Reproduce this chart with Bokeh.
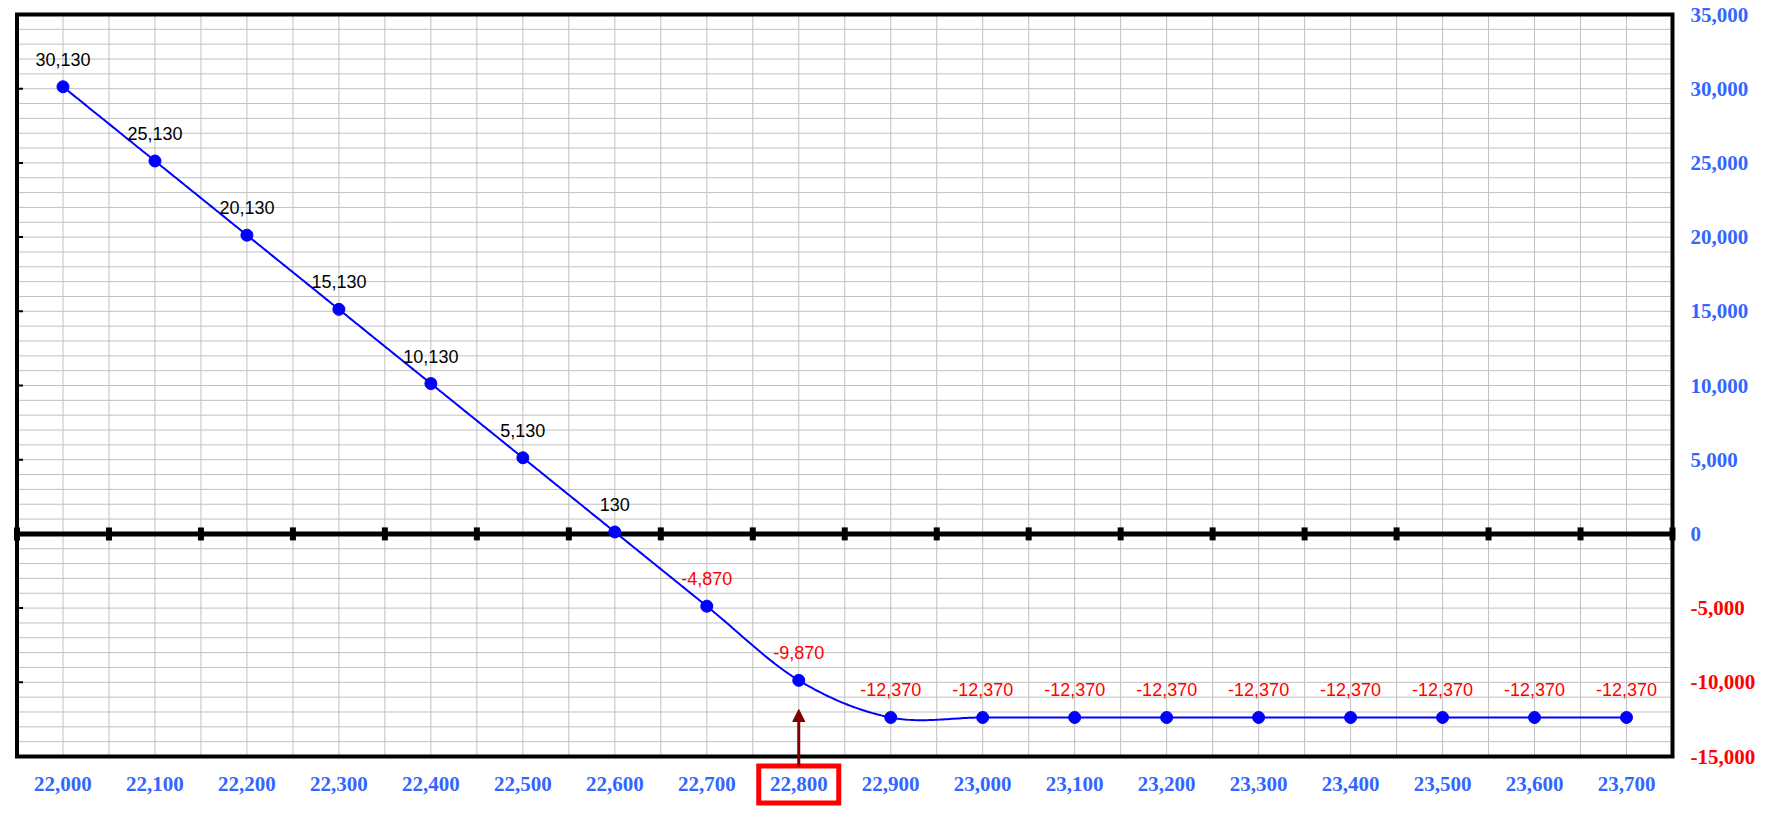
import numpy as np
from bokeh.plotting import figure
from bokeh.models import (ColumnDataSource, Range1d, LabelSet, Arrow, NormalHead)
from bokeh.core.properties import value
from bokeh.embed import file_html
from bokeh.resources import INLINE

# ---- data ----
strikes = [22000, 22100, 22200, 22300, 22400, 22500, 22600, 22700, 22800,
           22900, 23000, 23100, 23200, 23300, 23400, 23500, 23600, 23700]
payoff = [30130, 25130, 20130, 15130, 10130, 5130, 130, -4870, -9870,
          -12370, -12370, -12370, -12370, -12370, -12370, -12370, -12370, -12370]
y_ticks_pos = [0, 5000, 10000, 15000, 20000, 25000, 30000, 35000]
y_ticks_neg = [-5000, -10000, -15000]
highlight_strike = 22800

# plot-area limits (data units)
X0, X1 = 21950, 23750
Y0, Y1 = -15000, 35000

# canvas layout (pixels)
W, H = 1770, 808
L, R, T, B = 16.5, 1672.0, 14.0, 756.0

sx = (R - L) / (X1 - X0)
sy = (B - T) / (Y1 - Y0)
x_start = X0 - L / sx
x_end = X0 + (W - L) / sx
y_end = Y1 + T / sy
y_start = Y1 - (H - T) / sy


def py2y(py):
    return Y1 - (py - T) / sy


BLUE_LBL = "#3366ff"
RED = "#ff0000"
LINE_BLUE = "#0000ff"
GRID = "#c0c0c0"
SERIF = "Liberation Serif"
SANS = "Liberation Sans"

p = figure(width=W, height=H, x_range=Range1d(x_start, x_end), y_range=Range1d(y_start, y_end),
           x_axis_type=None, y_axis_type=None, min_border=0,
           output_backend="svg", toolbar_location=None)
p.background_fill_color = "white"
p.border_fill_color = "white"
p.outline_line_color = None
p.grid.visible = False

# grid lines inside the plot area
gx = np.arange(X0, X1 + 1, 50)
gy = np.arange(Y0, Y1 + 1, 1000)
p.segment(x0=gx, y0=Y0, x1=gx, y1=Y1, line_color=GRID, line_width=1)
p.segment(x0=X0, y0=gy, x1=X1, y1=gy, line_color=GRID, line_width=1)

# zero line with square tick marks
p.segment(x0=X0, y0=0, x1=X1, y1=0, line_color="black", line_width=5)
tick_x = np.arange(X0, X1 + 1, 100)
p.rect(x=tick_x, y=0, width=6, height=13, width_units="screen", height_units="screen",
       fill_color="black", line_color=None)

# short inward ticks on the left border
left_ticks = np.array(y_ticks_neg + y_ticks_pos)
p.segment(x0=X0, y0=left_ticks, x1=X0 + 6 / sx, y1=left_ticks, line_color="black", line_width=2)

# plot-area border
p.quad(left=X0, right=X1, bottom=Y0, top=Y1, fill_color=None, line_color="black",
       line_width=4, line_join="miter")


# smoothed curve (Bezier through points, like Excel smoothing)
def smooth(xs, ys, n=40):
    pts = np.column_stack([xs, ys]).astype(float)
    ox, oy = [], []
    m = len(pts)
    t = np.linspace(0, 1, n)
    for i in range(m - 1):
        p0 = pts[i - 1] if i > 0 else pts[i]
        p1 = pts[i]
        p2 = pts[i + 1]
        p3 = pts[i + 2] if i + 2 < m else pts[i + 1]
        c1 = p1 + (p2 - p0) / 6.0
        c2 = p2 - (p3 - p1) / 6.0
        b = ((1 - t) ** 3)[:, None] * p1 + (3 * (1 - t) ** 2 * t)[:, None] * c1 \
            + (3 * (1 - t) * t ** 2)[:, None] * c2 + (t ** 3)[:, None] * p2
        ox.extend(b[:, 0].tolist())
        oy.extend(b[:, 1].tolist())
    return ox, oy


cx, cy = smooth(strikes, payoff)
p.line(cx, cy, line_color=LINE_BLUE, line_width=2)
p.scatter(strikes, payoff, size=12, fill_color=LINE_BLUE, line_color=LINE_BLUE)

# data labels
lab_src = ColumnDataSource(dict(x=strikes, y=payoff,
                                t=[f"{v:,}" for v in payoff],
                                c=["black" if v >= 0 else RED for v in payoff]))
p.add_layout(LabelSet(x="x", y="y", text="t", source=lab_src, y_offset=21,
                      text_align="center", text_baseline="alphabetic",
                      text_font=value(SANS), text_font_size="18px", text_color="c"))

# x tick labels (bottom)
xl_src = ColumnDataSource(dict(x=strikes, y=[Y0] * len(strikes), t=[f"{v:,}" for v in strikes]))
p.add_layout(LabelSet(x="x", y="y", text="t", source=xl_src, y_offset=-34,
                      text_align="center", text_baseline="alphabetic",
                      text_font=value(SERIF), text_font_style="bold",
                      text_font_size="21px", text_color=BLUE_LBL))

# y tick labels (right): positive in blue, negative in red
yl_pos = ColumnDataSource(dict(x=[X1] * len(y_ticks_pos), y=y_ticks_pos, t=[f"{v:,}" for v in y_ticks_pos]))
p.add_layout(LabelSet(x="x", y="y", text="t", source=yl_pos, x_offset=18, y_offset=-7,
                      text_align="left", text_baseline="alphabetic",
                      text_font=value(SERIF), text_font_style="bold",
                      text_font_size="21px", text_color=BLUE_LBL))
yl_neg = ColumnDataSource(dict(x=[X1] * len(y_ticks_neg), y=y_ticks_neg, t=[f"{v:,}" for v in y_ticks_neg]))
p.add_layout(LabelSet(x="x", y="y", text="t", source=yl_neg, x_offset=18, y_offset=-7,
                      text_align="left", text_baseline="alphabetic",
                      text_font=value(SERIF), text_font_style="bold",
                      text_font_size="21px", text_color=RED))

# highlight box around the 22,800 label and the arrow pointing up
p.rect(x=highlight_strike, y=py2y(784), width=80, height=37,
       width_units="screen", height_units="screen",
       fill_color=None, line_color=RED, line_width=5, line_join="miter")
p.add_layout(Arrow(end=NormalHead(size=12, fill_color="#800000", line_color="#800000"),
                   x_start=highlight_strike, y_start=py2y(766),
                   x_end=highlight_strike, y_end=py2y(709),
                   line_color="#800000", line_width=3))

open("out.html", "w").write(file_html(p, INLINE))
